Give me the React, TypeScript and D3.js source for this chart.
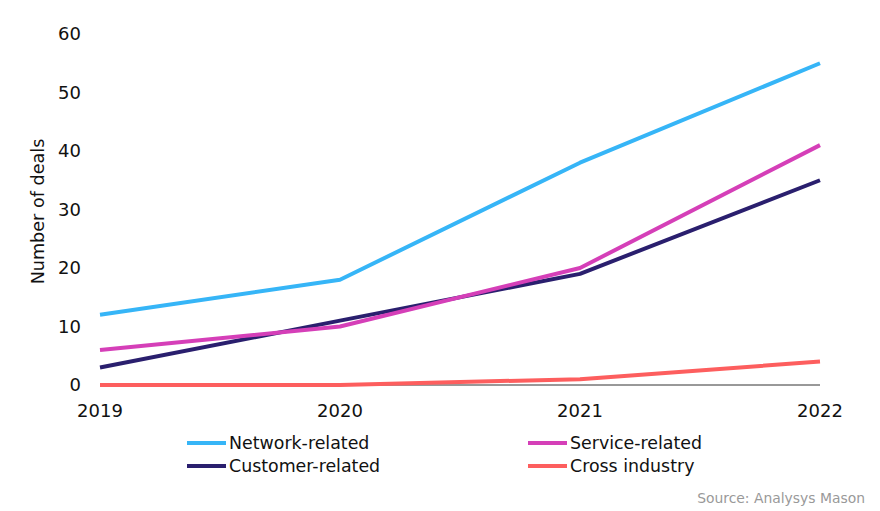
import React from "react";
import * as d3 from "d3";

const years = [2019, 2020, 2021, 2022];
const networkRelated = [12, 18, 38, 55];
const serviceRelated = [6, 10, 20, 41];
const customerRelated = [3, 11, 19, 35];
const crossIndustry = [0, 0, 1, 4];
const yTicks = [0, 10, 20, 30, 40, 50, 60];

const seriesNames = ["Network-related", "Service-related", "Customer-related", "Cross industry"];
const seriesColors = ["#36b5f7", "#d53fb8", "#2a1f6e", "#fd5e5e"];
const seriesValues = [networkRelated, serviceRelated, customerRelated, crossIndustry];

const W = 880;
const H = 511;
const FONT = "'DejaVu Sans', sans-serif";

export default function App() {
  const x = d3.scaleLinear().domain([2019, 2022]).range([100, 820]);
  const y = d3.scaleLinear().domain([0, 60]).range([385, 34]);
  const line = d3
    .line<number>()
    .x((_, i) => x(years[i]))
    .y((d) => y(d));

  const order = [3, 2, 1, 0];

  const legendPos = [
    { lx: 187, ly: 443 },
    { lx: 528, ly: 443 },
    { lx: 187, ly: 466 },
    { lx: 528, ly: 466 },
  ];

  return (
    <svg
      width={W}
      height={H}
      style={{ position: "absolute", left: 0, top: 0, background: "#fff" }}
      fontFamily={FONT}
    >
      {yTicks.map((t) => (
        <text key={t} x={81} y={y(t)} dy="0.35em" textAnchor="end" fontSize={18} fill="#111">
          {t}
        </text>
      ))}
      <text
        transform={`translate(44,${y(30) + 2}) rotate(-90)`}
        textAnchor="middle"
        fontSize={17.6}
        fill="#111"
      >
        Number of deals
      </text>
      <line x1={x(2019)} x2={x(2022)} y1={y(0)} y2={y(0)} stroke="#333" strokeWidth={1} />
      {years.map((yr) => (
        <text key={yr} x={x(yr)} y={417} textAnchor="middle" fontSize={18} fill="#111">
          {yr}
        </text>
      ))}
      {order.map((i) => (
        <path
          key={seriesNames[i]}
          d={line(seriesValues[i]) || ""}
          fill="none"
          stroke={seriesColors[i]}
          strokeWidth={4}
          strokeLinejoin="round"
        />
      ))}
      {seriesNames.map((n, i) => {
        const p = legendPos[i];
        return (
          <g key={n}>
            <line x1={p.lx} x2={p.lx + 39} y1={p.ly} y2={p.ly} stroke={seriesColors[i]} strokeWidth={4} />
            <text x={p.lx + 42} y={p.ly} dy="0.35em" fontSize={17.4} fill="#111">
              {n}
            </text>
          </g>
        );
      })}
      <text x={865} y={503} textAnchor="end" fontSize={13.9} fill="#999">
        Source: Analysys Mason
      </text>
    </svg>
  );
}
